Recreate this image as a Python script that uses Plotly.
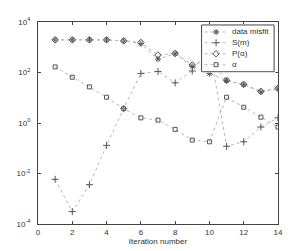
import plotly.graph_objects as go

iterations = list(range(1, 15))
data_misfit = [1960, 1960, 1960, 1960, 1780, 1400, 340, 550, 175, 90, 48, 33, 17, 23]
s_m = [0.0059, 0.00031, 0.0036, 0.13, 3.7, 92, 110, 39, 115, 1000, 0.12, 0.18, 0.69, 1.6]
p_alpha = [1960, 1960, 1960, 1960, 1790, 1550, 490, 570, 200, 340, 49, 34, 18, 24]
alpha = [166, 65, 27, 10.5, 3.7, 1.6, 1.3, 0.56, 0.21, 0.18, 10.5, 4.2, 1.7, 0.69]

series_names = ["data misfit", "S(m)", "P(\u03b1)", "\u03b1"]
series_values = [data_misfit, s_m, p_alpha, alpha]
series_symbols = ["asterisk-open", "cross-thin-open", "diamond-open", "square-open"]
series_sizes = [5, 5, 5, 4]

y_tickvals = [1e-4, 1e-2, 1, 1e2, 1e4]
y_ticktext = ["10<sup>-4</sup>", "10<sup>-2</sup>", "10<sup>0</sup>", "10<sup>2</sup>", "10<sup>4</sup>"]
x_tickvals = [0, 2, 4, 6, 8, 10, 12, 14]

line_style = dict(color="#b8b8b8", width=1, dash="dot")
mcol = "#555555"

fig = go.Figure()
for name, vals, sym, sz in zip(series_names, series_values, series_symbols, series_sizes):
    fig.add_trace(go.Scatter(
        x=iterations, y=vals, name=name, mode="lines+markers", showlegend=False,
        line=line_style,
        marker=dict(symbol=sym, size=sz, color=mcol, line=dict(color=mcol, width=1)),
    ))

# hand-built compact legend in its own small subplot (box, samples, labels)
fig.add_trace(go.Scatter(
    x=[0, 1, 1, 0, 0], y=[0, 0, 1, 1, 0], xaxis="x2", yaxis="y2", mode="lines",
    fill="toself", fillcolor="white", line=dict(color="#444444", width=1),
    showlegend=False, hoverinfo="skip"))
legend_rows = [0.85, 0.62, 0.385, 0.15]
for name, sym, sz, ry in zip(series_names, series_symbols, series_sizes, legend_rows):
    fig.add_trace(go.Scatter(
        x=[0.04, 0.34], y=[ry, ry], xaxis="x2", yaxis="y2", mode="lines",
        line=line_style, showlegend=False, hoverinfo="skip"))
    fig.add_trace(go.Scatter(
        x=[0.2], y=[ry], xaxis="x2", yaxis="y2", mode="markers",
        marker=dict(symbol=sym, size=sz, color=mcol, line=dict(color=mcol, width=1)),
        showlegend=False, hoverinfo="skip"))
    fig.add_annotation(x=0.39, y=ry, xref="x2", yref="y2", text=name, showarrow=False,
                       xanchor="left", yanchor="middle",
                       font=dict(size=8, color="#333333"))

axis_common = dict(showline=True, linecolor="#444444", linewidth=1, mirror="ticks",
                   ticks="inside", ticklen=3, tickcolor="#444444", showgrid=False,
                   zeroline=False, tickfont=dict(size=8, color="#333333"))

fig.update_layout(
    width=291, height=251,
    margin=dict(l=38, r=8, t=22, b=26),
    paper_bgcolor="white", plot_bgcolor="white",
    font=dict(family="Liberation Sans, Arial, sans-serif", size=8, color="#333333"),
    xaxis=dict(range=[0, 14], tickvals=x_tickvals, domain=[0, 1],
               title=dict(text="Iteration number", font=dict(size=8), standoff=1),
               **axis_common),
    yaxis=dict(type="log", range=[-4, 4], tickvals=y_tickvals, ticktext=y_ticktext,
               domain=[0, 1], ticklabelstandoff=5, **axis_common),
    xaxis2=dict(domain=[0.6755, 0.9898], range=[-0.02, 1.02], anchor="y2",
                visible=False, fixedrange=True),
    yaxis2=dict(domain=[0.7491, 0.9899], range=[-0.02, 1.02], anchor="x2",
                visible=False, fixedrange=True),
    showlegend=False,
)

fig.write_html("out.html", config={"displayModeBar": False},
               post_script="document.body.style.margin='0';")
